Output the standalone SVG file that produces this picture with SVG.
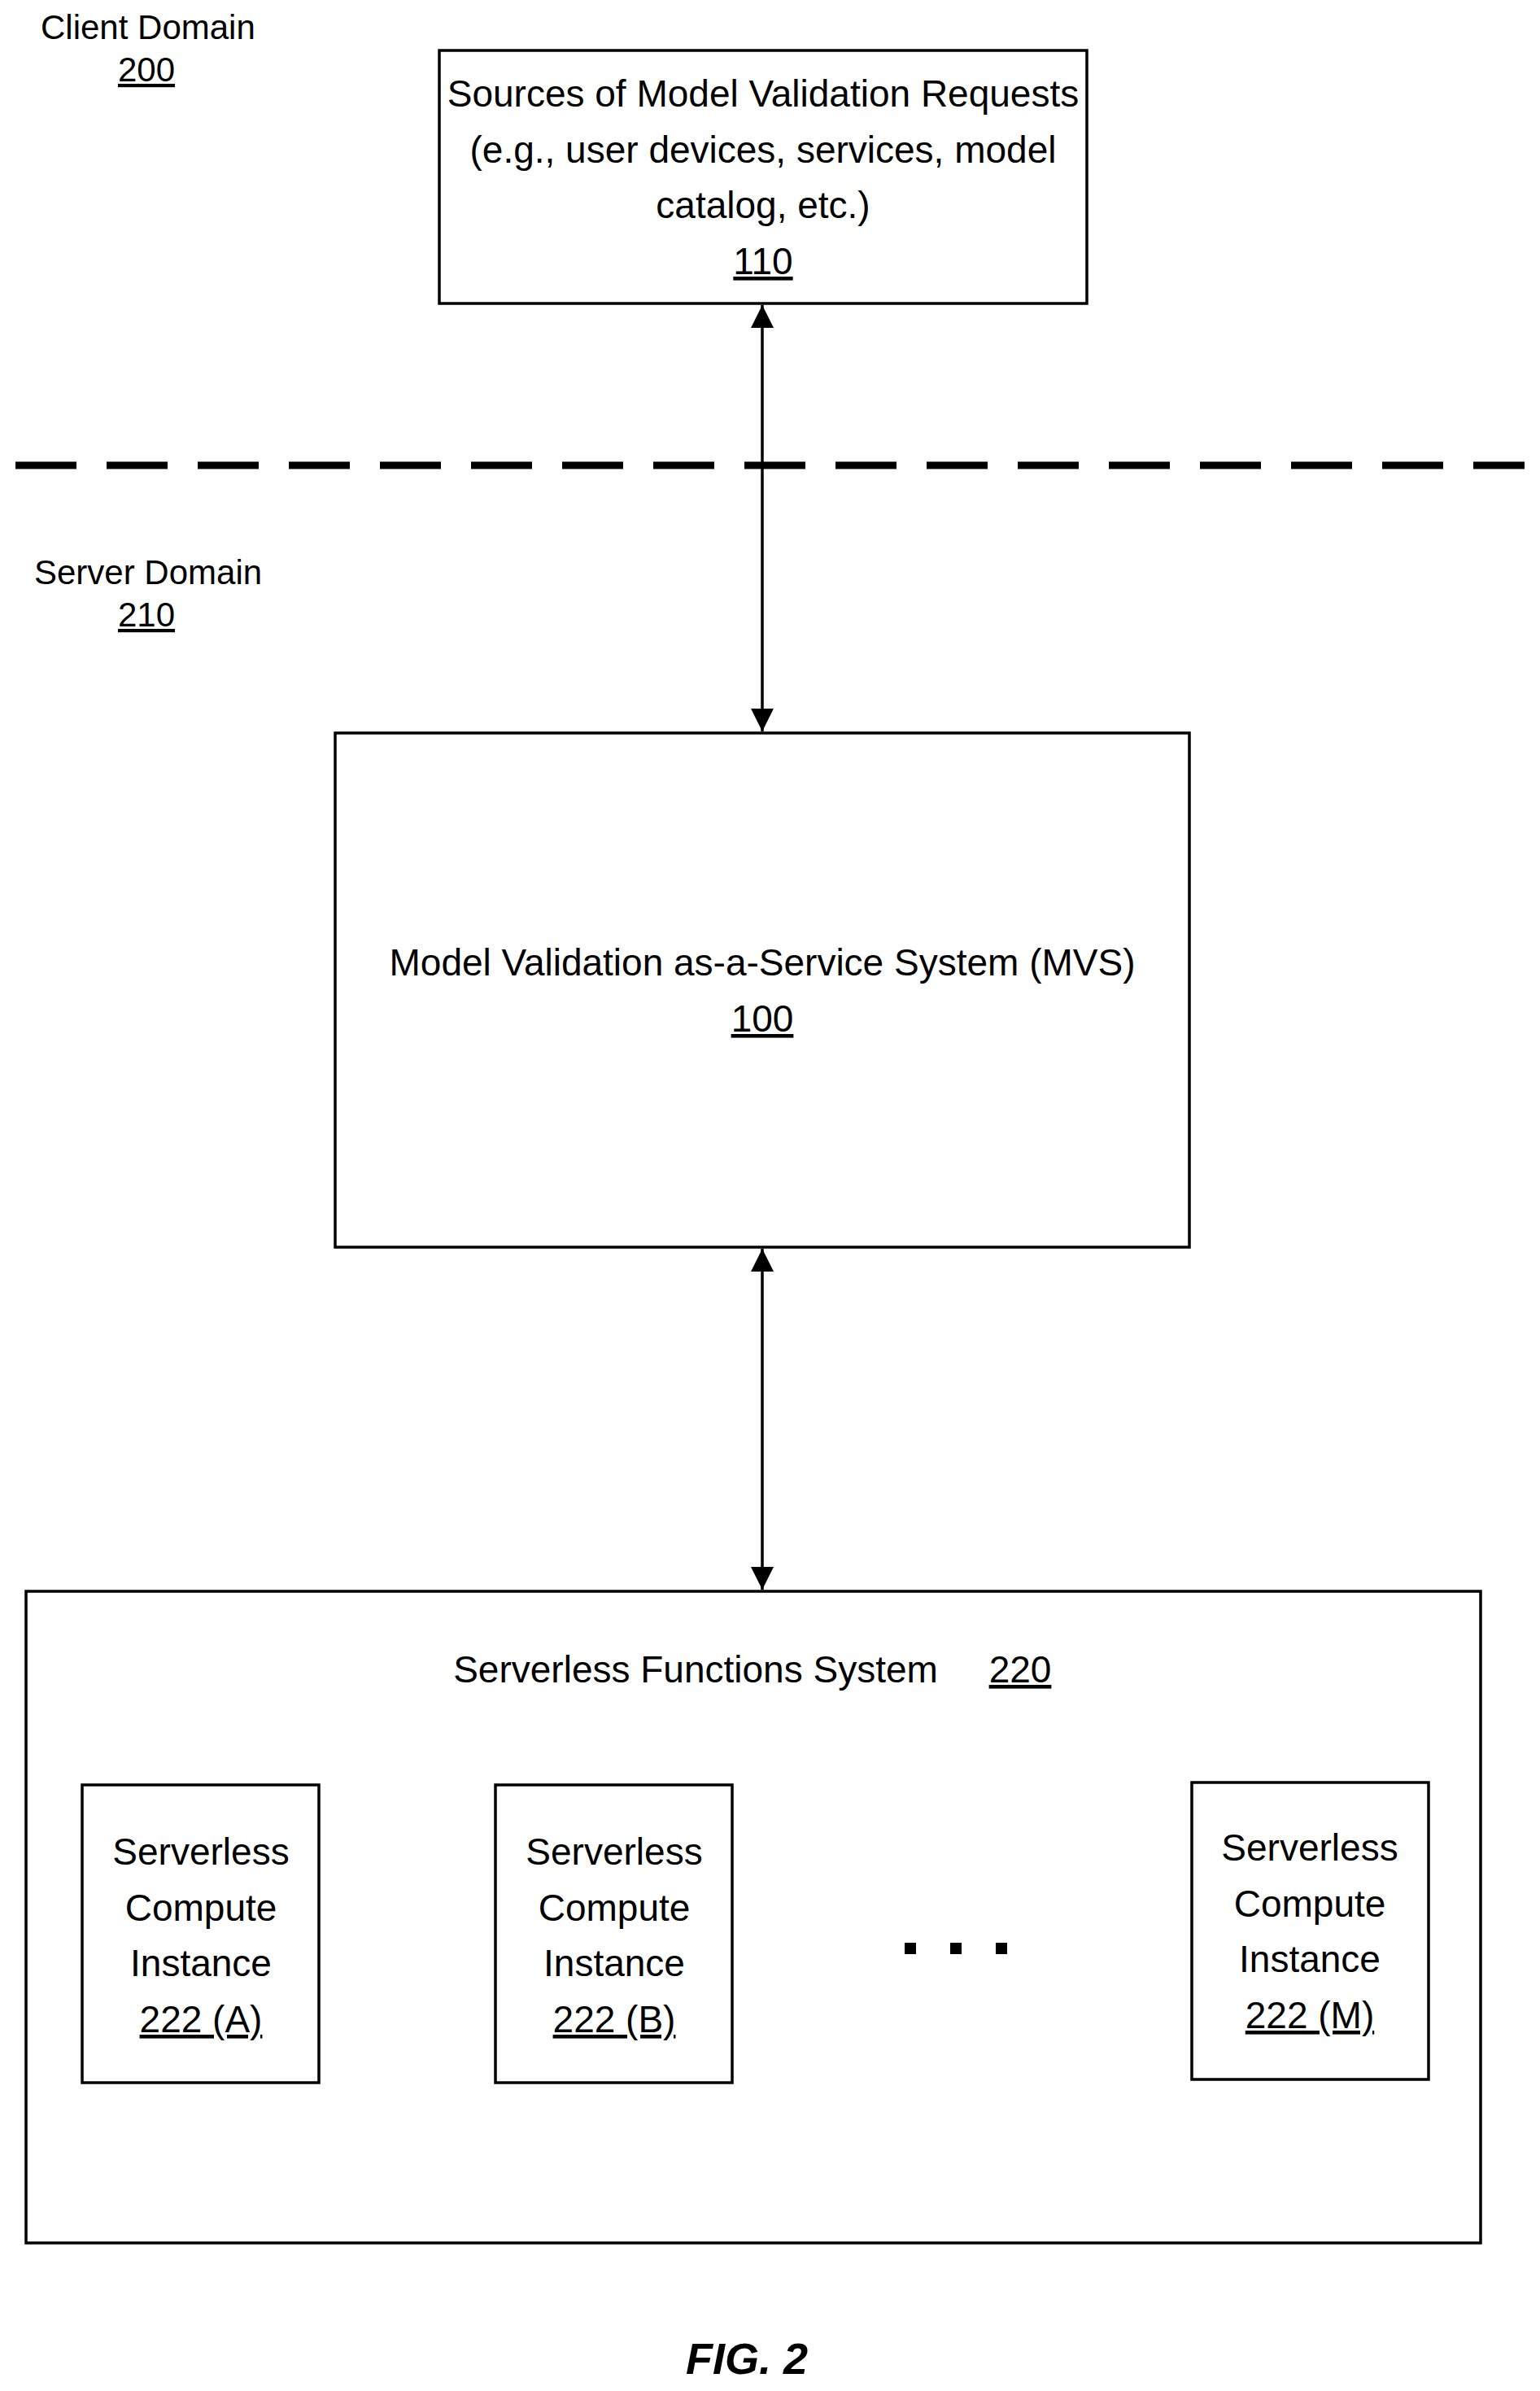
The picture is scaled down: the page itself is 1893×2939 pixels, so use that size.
<svg xmlns="http://www.w3.org/2000/svg" width="1893" height="2939" viewBox="0 0 1893 2939">
<style>
text{font-family:"Liberation Sans",Arial,sans-serif;font-size:46px;fill:#000}
.s{font-size:42px}
.c{text-anchor:middle}
.u{text-decoration:underline}
.box{fill:#fff;stroke:#000;stroke-width:3.5}
.ln{stroke:#000;stroke-width:3.5;fill:none}
</style>
<defs>
<marker id="a" viewBox="0 0 10 10" refX="10" refY="5" markerWidth="8" markerHeight="8" orient="auto-start-reverse"><path d="M0,0 L10,5 L0,10 z" fill="#000"/></marker>
</defs>
<rect width="1893" height="2939" fill="#fff"/>
<g id="labels">
<text x="50" y="48" class="s">Client Domain</text>
<text x="180" y="100" class="c u s">200</text>
<text x="42" y="718" class="s">Server Domain</text>
<text x="180" y="770" class="c u s">210</text>
</g>
<line x1="19" y1="572" x2="1874" y2="572" stroke="#000" stroke-width="9" stroke-dasharray="75 37"/>
<g id="connectors">
<line class="ln" x1="937" y1="375" x2="937" y2="899" marker-start="url(#a)" marker-end="url(#a)"/>
<line class="ln" x1="937" y1="1535" x2="937" y2="1954" marker-start="url(#a)" marker-end="url(#a)"/>
</g>
<g id="n110">
<rect class="box" x="540" y="62" width="796" height="311"/>
<text x="938" y="131" class="c">Sources of Model Validation Requests</text>
<text x="938" y="200" class="c">(e.g., user devices, services, model</text>
<text x="938" y="268" class="c">catalog, etc.)</text>
<text x="938" y="337" class="c u">110</text>
</g>
<g id="n100">
<rect class="box" x="412" y="901" width="1050" height="632"/>
<text x="937" y="1199" class="c">Model Validation as-a-Service System (MVS)</text>
<text x="937" y="1268" class="c u">100</text>
</g>
<g id="n220">
<rect class="box" x="32" y="1956" width="1788" height="801"/>
<text x="855" y="2068" class="c">Serverless Functions System</text>
<text x="1254" y="2068" class="c u">220</text>
</g>
<g id="n222A">
<rect class="box" x="101" y="2194" width="291" height="366"/>
<text x="247" y="2292" class="c">Serverless</text>
<text x="247" y="2361" class="c">Compute</text>
<text x="247" y="2429" class="c">Instance</text>
<text x="247" y="2498" class="c u">222 (A)</text>
</g>
<g id="n222B">
<rect class="box" x="609" y="2194" width="291" height="366"/>
<text x="755" y="2292" class="c">Serverless</text>
<text x="755" y="2361" class="c">Compute</text>
<text x="755" y="2429" class="c">Instance</text>
<text x="755" y="2498" class="c u">222 (B)</text>
</g>
<g id="n222M">
<rect class="box" x="1465" y="2191" width="291" height="365"/>
<text x="1610" y="2287" class="c">Serverless</text>
<text x="1610" y="2356" class="c">Compute</text>
<text x="1610" y="2424" class="c">Instance</text>
<text x="1610" y="2493" class="c u">222 (M)</text>
</g>
<g id="dots" fill="#000">
<rect x="1112" y="2388" width="14" height="14"/>
<rect x="1168" y="2388" width="14" height="14"/>
<rect x="1224" y="2388" width="14" height="14"/>
</g>
<text x="918" y="2918" class="c" style="font-size:54px;font-weight:bold;font-style:italic">FIG. 2</text>
</svg>
